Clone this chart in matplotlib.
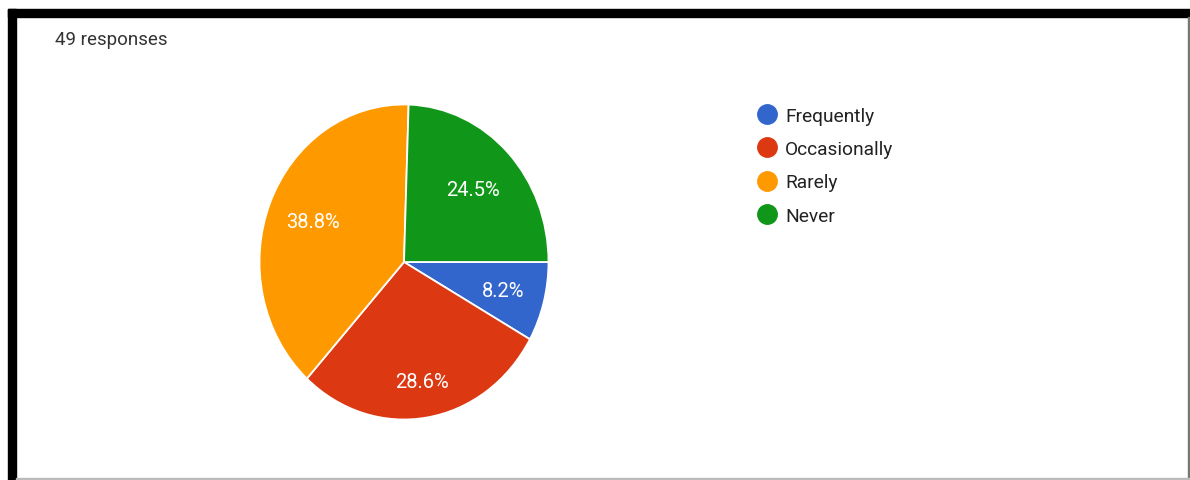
import matplotlib.pyplot as plt
from matplotlib.lines import Line2D
from matplotlib.patches import Rectangle

# survey answers (49 responses)
labels = ['Frequently', 'Occasionally', 'Rarely', 'Never']
counts = [4, 14, 19, 12]
colors = ['#3366cc', '#dc3912', '#ff9900', '#109618']
total_label = '49 responses'

plt.rcParams['font.family'] = ['Roboto', 'DejaVu Sans']

W, H = 1190, 481
fig = plt.figure(figsize=(W / 100, H / 100), dpi=100)


def px(x0, y0, w, h):
    # pixel box (top-left origin) -> figure fraction
    return [x0 / W, 1 - (y0 + h) / H, w / W, h / H]


# frame around the card
fig.patches.append(Rectangle((8 / W, 0), 8 / W, 1 - 10 / H, transform=fig.transFigure, color='black'))
fig.patches.append(Rectangle((8 / W, 1 - 18 / H), 1 - 8 / W, 8 / H, transform=fig.transFigure, color='black'))
fig.patches.append(Rectangle((1188 / W, 0), 2 / W, 1 - 18 / H, transform=fig.transFigure, color='#777777'))
fig.patches.append(Rectangle((16 / W, 0), 1 - 16 / W, 2 / H, transform=fig.transFigure, color='#bbbbbb'))

fig.text(55 / W, 1 - 40 / H, total_label, fontsize=13.5, color='#333333', va='center', ha='left')

ax = fig.add_axes(px(259.5, 105.5, 289, 315))
wedges, texts, autotexts = ax.pie(
    counts, colors=colors, startangle=0, counterclock=False,
    autopct='%1.1f%%', pctdistance=0.7,
    wedgeprops=dict(edgecolor='white', linewidth=1.3),
    textprops=dict(color='white', fontsize=14.5))
ax.set_aspect('auto')
ax.set_xlim(-1, 1)
ax.set_ylim(-1, 1)

# nudge the percentage labels along their radius
label_dist = [0.71, 0.77, 0.68, 0.665]
for t, d in zip(autotexts, label_dist):
    x, y = t.get_position()
    t.set_position((x * d / 0.7, y * d / 0.7))

handles = [Line2D([], [], marker='o', linestyle='', markersize=14,
                  markerfacecolor=c, markeredgecolor=c) for c in colors]
fig.legend(handles, labels, loc='upper left',
           bbox_to_anchor=(746 / W, 1 - 98 / H), frameon=False,
           fontsize=13.8, labelcolor='#222222', handletextpad=0.35,
           labelspacing=0.8, borderpad=0, handlelength=1.2)

fig.savefig('out.png', dpi=100, facecolor='white')
